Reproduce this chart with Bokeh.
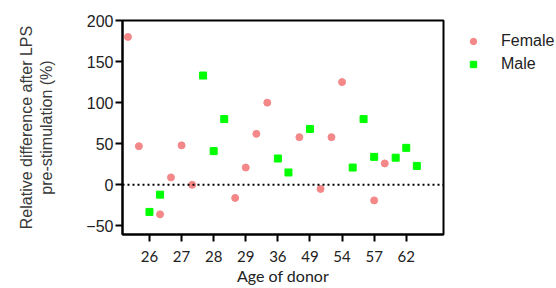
from bokeh.plotting import figure
from bokeh.layouts import row
from bokeh.models import Range1d, FixedTicker, Span, Legend, LegendItem
from bokeh.embed import file_html
from bokeh.resources import INLINE

# Data (x positions are offsets along the evenly spaced age-group axis)
tick_labels = ["26", "27", "28", "29", "36", "49", "54", "57", "62"]
female_pos = [-0.67, -0.33, 0.33, 0.67, 1.0, 1.33, 2.67, 3.0, 3.33, 3.67, 4.67, 5.33, 5.67, 6.0, 7.0, 7.33]
female_val = [180, 47, -36, 9, 48, 0, -16, 21, 62, 100, 58, -5, 58, 125, -19, 26]
male_pos = [0.0, 0.33, 1.67, 2.0, 2.33, 4.0, 4.33, 5.0, 6.33, 6.67, 7.0, 7.67, 8.0, 8.33]
male_val = [-33, -12, 133, 41, 80, 32, 15, 68, 21, 80, 34, 33, 45, 23]
y_ticks = [-50, 0, 50, 100, 150, 200]
series_names = ["Female", "Male"]

FEMALE_COLOR = "#F48888"
MALE_COLOR = "#00FF00"

p = figure(width=445, height=288, output_backend="svg", toolbar_location=None,
           x_range=Range1d(-0.84, 9.16), y_range=Range1d(-60.5, 200),
           min_border_left=122, min_border_right=2, min_border_top=20, min_border_bottom=54)

p.xgrid.visible = False
p.ygrid.visible = False
p.outline_line_color = "black"
p.outline_line_width = 2
p.background_fill_color = "white"
p.border_fill_color = "white"

# zero line
p.add_layout(Span(location=0, dimension="width", line_color="black", line_width=2, line_dash="2 3"))

p.scatter(female_pos, female_val, marker="circle", size=7, fill_color=FEMALE_COLOR, line_color=FEMALE_COLOR)
p.scatter(male_pos, male_val, marker="square", size=7, fill_color=MALE_COLOR, line_color=MALE_COLOR)

# x axis
xa = p.xaxis[0]
xa.ticker = FixedTicker(ticks=list(range(len(tick_labels))))
xa.major_label_overrides = {i: t for i, t in enumerate(tick_labels)}
xa.axis_label = "Age of donor"
xa.axis_label_text_font = "Lato"
xa.axis_label_text_font_size = "16px"
xa.axis_label_text_font_style = "normal"
xa.axis_label_text_color = "#222222"
xa.axis_label_standoff = 1
xa.major_label_text_font = "Lato"
xa.major_label_text_font_size = "15px"
xa.major_label_text_color = "#222222"
xa.major_label_standoff = 9
xa.axis_line_width = 2
xa.major_tick_line_width = 2
xa.major_tick_in = 0
xa.major_tick_out = 7
xa.minor_tick_line_color = None

# y axis
ya = p.yaxis[0]
ya.ticker = FixedTicker(ticks=y_ticks)
ya.axis_label = "Relative difference after LPS\npre-stimulation (%)"
ya.axis_label_text_font = "Liberation Sans"
ya.axis_label_text_font_size = "16px"
ya.axis_label_text_font_style = "normal"
ya.axis_label_text_color = "#3a3a3a"
ya.axis_label_standoff = 28
ya.major_label_text_font = "Liberation Sans"
ya.major_label_text_font_size = "16px"
ya.major_label_text_color = "#222222"
ya.major_label_standoff = 2
ya.axis_line_width = 2
ya.major_tick_line_width = 2
ya.major_tick_in = 0
ya.major_tick_out = 7
ya.minor_tick_line_color = None

# legend panel (separate plot to the right of the frame); its key glyphs use a
# hidden point placed outside the panel's range so only the legend shows them
q = figure(width=111, height=288, output_backend="svg", toolbar_location=None,
           x_range=Range1d(0, 1), y_range=Range1d(0, 1),
           min_border_left=0, min_border_right=0, min_border_top=20, min_border_bottom=0)
q.axis.visible = False
q.grid.visible = False
q.outline_line_color = None
q.background_fill_color = "white"
q.border_fill_color = "white"
lf = q.scatter([-5], [-5], marker="circle", size=7, fill_color=FEMALE_COLOR, line_color=FEMALE_COLOR)
lm = q.scatter([-5], [-5], marker="square", size=7, fill_color=MALE_COLOR, line_color=MALE_COLOR)

legend = Legend(items=[LegendItem(label=series_names[0], renderers=[lf]),
                       LegendItem(label=series_names[1], renderers=[lm])],
                location="top_left", padding=0, margin=0, spacing=3,
                title=" ", title_text_font_size="8px", title_standoff=2,
                glyph_width=56, glyph_height=16, label_height=20, label_standoff=0,
                label_text_font="Liberation Sans", label_text_font_size="16px",
                label_text_color="#222222",
                border_line_alpha=0, background_fill_alpha=0)
q.add_layout(legend, "center")

layout = row(p, q, spacing=0)
open("out.html", "w").write(file_html(layout, INLINE))
